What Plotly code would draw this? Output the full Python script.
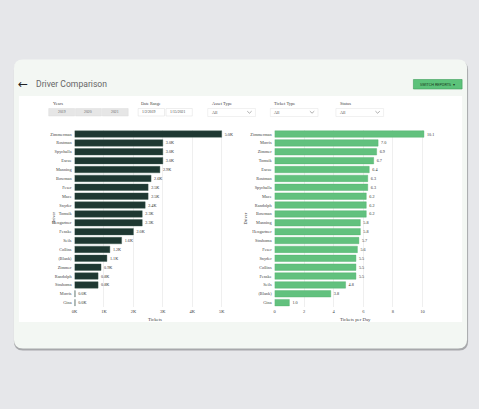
import plotly.graph_objects as go

# ---------------- data ----------------
tickets_drivers = ["Zimmerman", "Rostman", "Spychalla", "Escue", "Manning", "Bowman", "Feser",
                   "Mace", "Snyder", "Tomsik", "Hengartner", "Fenske", "Seils", "Collins",
                   "(Blank)", "Zimmer", "Randolph", "Strahoma", "Morris", "Gina"]
tickets_k = [5.0, 3.0, 3.0, 3.0, 2.9, 2.6, 2.5, 2.5, 2.4, 2.3, 2.3, 2.0, 1.6, 1.2,
             1.1, 0.9, 0.8, 0.8, 0.02, 0.02]

perday_drivers = ["Zimmerman", "Morris", "Zimmer", "Tomsik", "Escue", "Rostman", "Spychalla",
                  "Mace", "Randolph", "Bowman", "Manning", "Hengartner", "Strahoma", "Feser",
                  "Snyder", "Collins", "Fenske", "Seils", "(Blank)", "Gina"]
tickets_per_day = [10.1, 7.0, 6.9, 6.7, 6.4, 6.3, 6.3, 6.2, 6.2, 6.2, 5.8, 5.8, 5.7, 5.6,
                   5.5, 5.5, 5.5, 4.8, 3.8, 1.0]

left_ticks = [0, 1, 2, 3, 4, 5]
right_ticks = [0, 2, 4, 6, 8, 10]
year_labels = ["2019", "2020", "2021"]
date_labels = ["1/2/2019", "1/15/2021"]
filter_labels = ["Asset Type", "Ticket Type", "Status"]

# ---------------- layout helpers ----------------
W, H = 479, 409
def fx(x): return x / W
def fy(y): return 1 - y / H

def rrect(x0, y0, x1, y1, r):
    X0, X1 = fx(x0), fx(x1)
    Y0, Y1 = fy(y0), fy(y1)
    rx, ry = r / W, r / H
    return (f"M {X0+rx},{Y0} L {X1-rx},{Y0} Q {X1},{Y0} {X1},{Y0-ry} "
            f"L {X1},{Y1+ry} Q {X1},{Y1} {X1-rx},{Y1} L {X0+rx},{Y1} "
            f"Q {X0},{Y1} {X0},{Y1+ry} L {X0},{Y0-ry} Q {X0},{Y0} {X0+rx},{Y0} Z")

SERIF = "Liberation Serif"
SANS = "Roboto"
DARK = "#1e3832"
GREEN = "#62c17e"

fig = go.Figure()

fig.add_trace(go.Bar(
    y=tickets_drivers, x=tickets_k, orientation="h", xaxis="x", yaxis="y",
    marker=dict(color=DARK, line=dict(color="#3d5a52", width=0.4)),
    texttemplate="%{x:.1f}K", textposition="outside", cliponaxis=False,
    textfont=dict(family=SERIF, size=4.2, color="#333"), hoverinfo="skip"))

fig.add_trace(go.Bar(
    y=perday_drivers, x=tickets_per_day, orientation="h", xaxis="x2", yaxis="y2",
    marker=dict(color=GREEN, line=dict(color="#4fae6b", width=0.4)),
    texttemplate="%{x:.1f}", textposition="outside", cliponaxis=False,
    textfont=dict(family=SERIF, size=4.2, color="#333"), hoverinfo="skip"))

ytop, ybot = 129.6, 307.1
axis_common = dict(showgrid=True, gridcolor="#efefef", gridwidth=0.6, zeroline=False,
                   showline=False, ticks="", tickfont=dict(family=SERIF, size=4.5, color="#444"))
yaxis_common = dict(showgrid=False, zeroline=False, showline=False, ticks="",
                    autorange="reversed", type="category", ticklabelstandoff=2,
                    tickfont=dict(family=SERIF, size=4.3, color="#444"),
                    domain=[fy(ybot), fy(ytop)])

shapes = []
# card shadow + card
shapes.append(dict(type="path", xref="paper", yref="paper", layer="below",
                   path=rrect(11, 61, 468, 350.5, 9), fillcolor="#a7a8ab", line=dict(width=0)))
shapes.append(dict(type="path", xref="paper", yref="paper", layer="below",
                   path=rrect(11, 59.5, 467, 348.5, 9), fillcolor="#f3f7f3", line=dict(width=0)))
# white panel
shapes.append(dict(type="rect", xref="paper", yref="paper", layer="below",
                   x0=fx(16), x1=fx(462), y0=fy(322), y1=fy(96),
                   fillcolor="#ffffff", line=dict(width=0)))
# button
shapes.append(dict(type="rect", xref="paper", yref="paper", layer="below",
                   x0=fx(413), x1=fx(462), y0=fy(89), y1=fy(79.5),
                   fillcolor="#5cc27a", line=dict(color="#3f9f5c", width=0.6)))

annotations = []
def txt(x, y, s, size, color="#444", family=SERIF, xanchor="left", **kw):
    annotations.append(dict(x=fx(x), y=fy(y), xref="paper", yref="paper", text=s,
                            showarrow=False, xanchor=xanchor, yanchor="middle",
                            font=dict(family=family, size=size, color=color), **kw))

txt(13, 83.5, "\u2190", 12, color="#222", family="DejaVu Sans")
txt(31, 84.5, "Driver Comparison", 8.6, color="#666", family=SANS)
txt(437, 84.5, "SWITCH REPORTS  \u25be", 3.8, color="#1a3a20", family=SANS, xanchor="center")

# Years
txt(48, 103, "Years", 4.5)
for i, lab in enumerate(year_labels):
    x0 = 46 + i * 27
    shapes.append(dict(type="rect", xref="paper", yref="paper", layer="below",
                       x0=fx(x0), x1=fx(x0 + 26), y0=fy(116), y1=fy(108.5),
                       fillcolor="#e6e6e6", line=dict(color="#d6d6d6", width=0.4)))
    txt(x0 + 13, 112.3, lab, 3.8, color="#666", xanchor="center")

# Date range
txt(137, 103, "Date Range", 4.2)
for i, lab in enumerate(date_labels):
    x0 = 136 + i * 28
    shapes.append(dict(type="rect", xref="paper", yref="paper", layer="below",
                       x0=fx(x0), x1=fx(x0 + 26.5), y0=fy(116), y1=fy(108.5),
                       fillcolor="#ffffff", line=dict(color="#dcdcdc", width=0.5)))
    txt(x0 + 2, 112.3, lab, 3.8, color="#444")

# dropdown filters
for lab, x0 in zip(filter_labels, [206, 269, 335]):
    txt(x0 + 2, 103, lab, 4.5)
    shapes.append(dict(type="rect", xref="paper", yref="paper", layer="below",
                       x0=fx(x0), x1=fx(x0 + 48), y0=fy(116.5), y1=fy(108.5),
                       fillcolor="#ffffff", line=dict(color="#e2e2e2", width=0.5)))
    txt(x0 + 2, 112.3, "All", 4.2, color="#444")
    cx = x0 + 42
    shapes.append(dict(type="path", xref="paper", yref="paper",
                       path=f"M {fx(cx-2.2)},{fy(111.2)} L {fx(cx)},{fy(113.2)} L {fx(cx+2.2)},{fy(111.2)}",
                       line=dict(color="#777", width=0.6)))

# axis titles
txt(50, 218, "Driver", 4.5, xanchor="center", textangle=-90)
txt(244, 218, "Driver", 4.5, xanchor="center", textangle=-90)
txt(153, 319, "Tickets", 4.8, xanchor="center")
txt(355, 319.5, "Tickets per Day", 4.8, xanchor="center")

fig.update_layout(
    width=W, height=H, margin=dict(l=0, r=0, t=0, b=0),
    paper_bgcolor="#e6e7ea", plot_bgcolor="rgba(0,0,0,0)",
    showlegend=False, bargap=0.27,
    xaxis=dict(domain=[fx(72), fx(234)], range=[0, 5.47], anchor="y",
               tickvals=left_ticks, ticktext=[f"{t}K" for t in left_ticks], **axis_common),
    yaxis=dict(anchor="x", **yaxis_common),
    xaxis2=dict(domain=[fx(273.3), fx(437)], range=[0, 11.0], anchor="y2",
                tickvals=right_ticks, **axis_common),
    yaxis2=dict(anchor="x2", **yaxis_common),
    shapes=shapes, annotations=annotations,
)

fig.write_html("out.html", config={"displayModeBar": False},
               post_script="document.body.style.margin='0';")
